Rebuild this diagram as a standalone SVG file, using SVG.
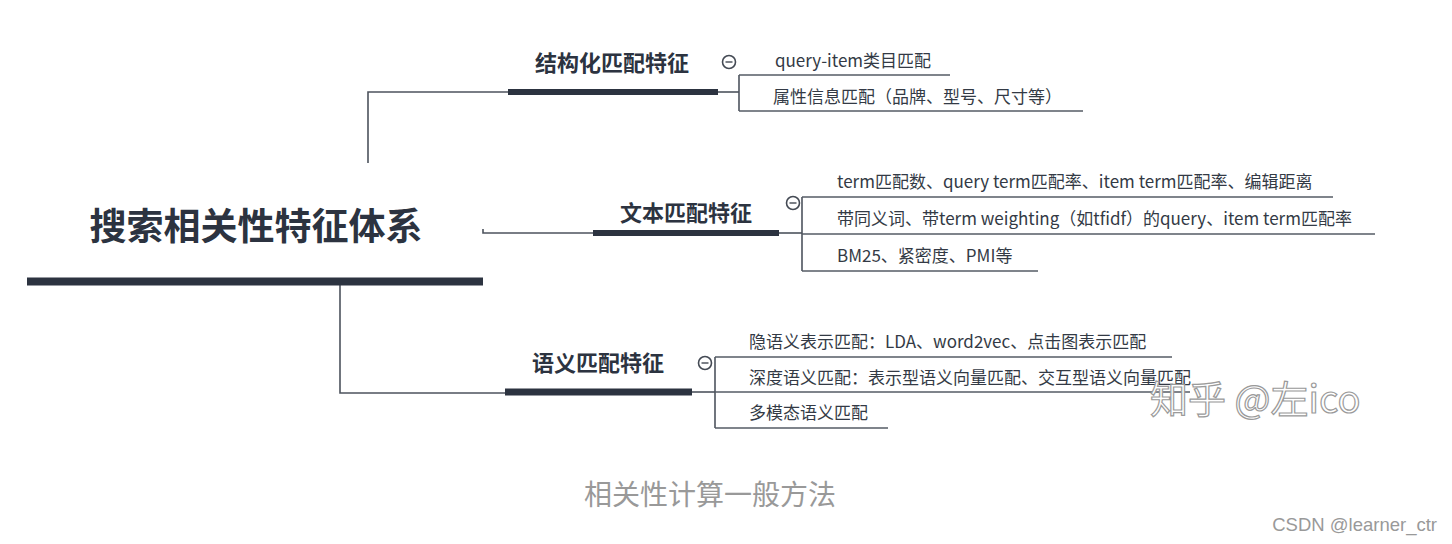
<svg xmlns="http://www.w3.org/2000/svg" width="1452" height="544" viewBox="0 0 1452 544">
<style>
.root{font-family:"Noto Sans CJK SC","Noto Sans",sans-serif;font-weight:700;font-size:37px;fill:#2c3340}
.hdr{font-family:"Noto Sans CJK SC","Noto Sans",sans-serif;font-weight:700;font-size:22px;fill:#2c3340}
.leaf{font-family:"Noto Sans CJK SC","Noto Sans",sans-serif;font-size:17px;fill:#333a45}
.bar{stroke:#2c3340;stroke-linecap:butt}
.conn{fill:none;stroke:#4d535d;stroke-width:1.6}
.ul{fill:none;stroke:#555b64;stroke-width:1.6}
.tog circle{fill:#fff;stroke:#444a54;stroke-width:1.6}
.tog line{stroke:#444a54;stroke-width:1.4}
.cap{font-family:"Noto Sans CJK SC","Noto Sans",sans-serif;font-size:28px;fill:#999}
.src{font-family:"Liberation Sans",Arial,sans-serif;font-size:18.5px;fill:#999}
.wm{font-family:"Noto Sans CJK SC","Noto Sans",sans-serif;font-size:38px;fill:#fff;stroke:#9a9a9a;stroke-width:1.2}
</style>
<rect width="1452" height="544" fill="#fff"/>

<g id="connectors">
  <path class="conn" d="M368,163 V92 H508"/>
  <path class="conn" d="M483,229 V233 H593"/>
  <path class="conn" d="M340,285 V393 H505"/>
  <path class="conn" d="M718,92 H739"/>
  <path class="conn" d="M779,233 H802"/>
  <path class="conn" d="M692,392 H715"/>
  <path class="conn" d="M739,75 V111"/>
  <path class="conn" d="M802,197 V271"/>
  <path class="conn" d="M715,357 V428"/>
</g>

<g id="root">
  <text class="root" x="256" y="240" text-anchor="middle">搜索相关性特征体系</text>
  <line class="bar" x1="27" y1="281.5" x2="483" y2="281.5" stroke-width="8"/>
</g>

<g id="structural">
  <text class="hdr" x="612" y="71" text-anchor="middle">结构化匹配特征</text>
  <line class="bar" x1="508" y1="92" x2="718" y2="92" stroke-width="6"/>
  <g class="tog"><circle cx="729" cy="62" r="6.5"/><line x1="725.5" y1="62" x2="732.5" y2="62"/></g>
</g>
<g id="s1"><text class="leaf" x="775" y="67">query-item类目匹配</text><line class="ul" x1="739" y1="75" x2="950" y2="75"/></g>
<g id="s2"><text class="leaf" x="773" y="103">属性信息匹配（品牌、型号、尺寸等）</text><line class="ul" x1="739" y1="111" x2="1083" y2="111"/></g>

<g id="textual">
  <text class="hdr" x="686" y="221" text-anchor="middle">文本匹配特征</text>
  <line class="bar" x1="593" y1="233" x2="779" y2="233" stroke-width="6"/>
  <g class="tog"><circle cx="793" cy="203" r="6.5"/><line x1="789.5" y1="203" x2="796.5" y2="203"/></g>
</g>
<g id="t1"><text class="leaf" x="837" y="188">term匹配数、query term匹配率、item term匹配率、编辑距离</text><line class="ul" x1="802" y1="197" x2="1333" y2="197"/></g>
<g id="t2"><text class="leaf" x="837" y="225">带同义词、带term weighting（如tfidf）的query、item term匹配率</text><line class="ul" x1="802" y1="234" x2="1375" y2="234"/></g>
<g id="t3"><text class="leaf" x="837" y="262">BM25、紧密度、PMI等</text><line class="ul" x1="802" y1="271" x2="1038" y2="271"/></g>

<g id="semantic">
  <text class="hdr" x="598" y="371" text-anchor="middle">语义匹配特征</text>
  <line class="bar" x1="505" y1="392" x2="692" y2="392" stroke-width="7"/>
  <g class="tog"><circle cx="705" cy="363" r="6.5"/><line x1="701.5" y1="363" x2="708.5" y2="363"/></g>
</g>
<g id="m1"><text class="leaf" x="749" y="348">隐语义表示匹配：LDA、word2vec、点击图表示匹配</text><line class="ul" x1="715" y1="357" x2="1172" y2="357"/></g>
<g id="m2"><text class="leaf" x="749" y="384">深度语义匹配：表示型语义向量匹配、交互型语义向量匹配</text><line class="ul" x1="715" y1="392" x2="1190" y2="392"/></g>
<g id="m3"><text class="leaf" x="749" y="419">多模态语义匹配</text><line class="ul" x1="715" y1="428" x2="888" y2="428"/></g>

<text class="wm" x="1150" y="413">知乎 @左ico</text>
<text class="cap" x="710" y="505" text-anchor="middle">相关性计算一般方法</text>
<text class="src" x="1437" y="531" text-anchor="end">CSDN @learner_ctr</text>
</svg>
